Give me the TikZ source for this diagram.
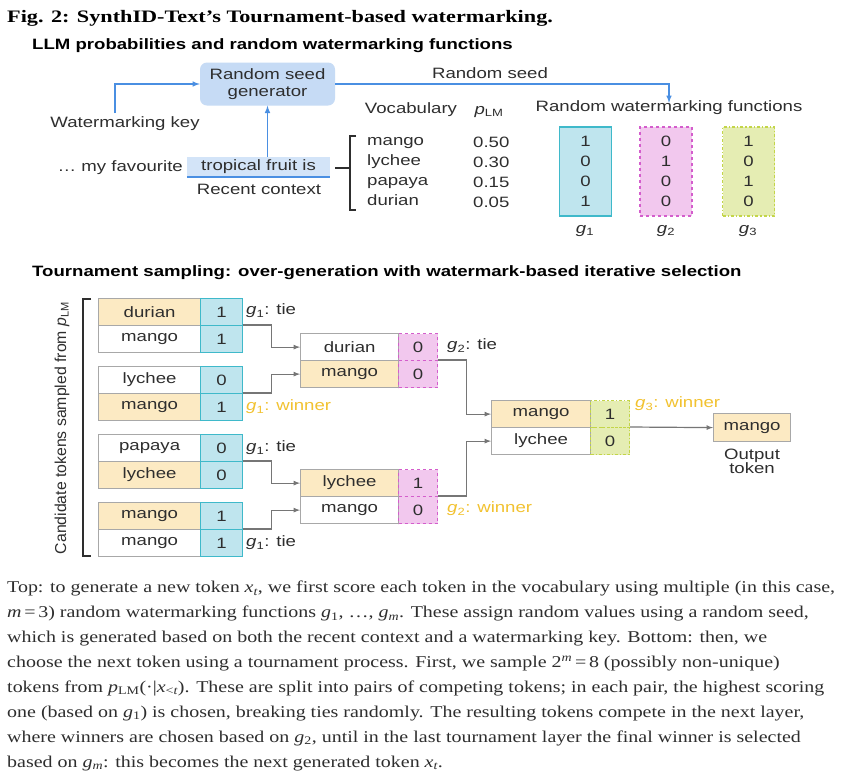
\documentclass[tikz,border=0pt]{standalone}
\usepackage{fontspec}
\setmainfont{Liberation Serif}[FakeStretch=1.21]
\setsansfont{Liberation Sans}[FakeStretch=1.24]
\newfontfamily\rotfont{Liberation Sans}
\newfontfamily\titlefont{Liberation Serif}[FakeStretch=1.27]
\usetikzlibrary{arrows}

\definecolor{seedblue}{HTML}{4A8FE2}
\definecolor{seedfill}{HTML}{C6DBF5}
\definecolor{ctxfill}{HTML}{D3E4F8}
\definecolor{gonefill}{HTML}{BFE5EE}
\definecolor{goneline}{HTML}{3FB9CA}
\definecolor{gtwofill}{HTML}{F2C8EE}
\definecolor{gtwoline}{HTML}{D45DCC}
\definecolor{gthreefill}{HTML}{E5EDB3}
\definecolor{gthreeline}{HTML}{C3D548}
\definecolor{winfill}{HTML}{FCEAC3}
\definecolor{wintext}{HTML}{F2C230}
\definecolor{cellline}{HTML}{A8A8A8}
\definecolor{linkgray}{HTML}{767676}
\definecolor{inkgray}{HTML}{2E2E2E}

\newcommand\diafont{\fontsize{15}{20}\selectfont\sffamily}

\tikzset{
  txt/.style={inner sep=0pt, text=inkgray, font=\diafont},
  head/.style={inner sep=0pt, anchor=west, text=black, font=\fontsize{15}{18}\selectfont\sffamily\bfseries},
  word/.style={draw=cellline, line width=1.2pt, minimum height=27pt, inner sep=0pt,
    anchor=north west, text=inkgray, font=\diafont},
  sone/.style={word, draw=goneline, fill=gonefill, minimum width=42pt},
  stwo/.style={word, draw=gtwoline, fill=gtwofill, dashed, minimum width=39pt},
  sthree/.style={word, draw=gthreeline, fill=gthreefill, dash dot, minimum width=39pt},
  gbox/.style={line width=1.2pt, minimum width=52pt, minimum height=89pt, align=center,
    text=inkgray, font=\diafont},
  link/.style={->, >=latex, draw=linkgray, line width=1.2pt},
  seedarrow/.style={->, >=latex, draw=seedblue, line width=1.5pt},
  score/.style={txt, anchor=west},
  win/.style={txt, anchor=west, text=wintext}
}

\begin{document}
\begin{tikzpicture}[x=1pt, y=-1pt]
\useasboundingbox[fill=white] (0,0) rectangle (842,780);

\node[inner sep=0pt, anchor=west, font=\fontsize{17.5}{20}\selectfont\titlefont\bfseries] (figtitle) at (7,18)
  {Fig. 2: SynthID-Text’s Tournament-based watermarking.};
\node[head] (toptitle) at (32,46) {LLM probabilities and random watermarking functions};

% seed generation
\node[txt, fill=seedfill, rounded corners=7pt, minimum width=135pt, minimum height=43pt,
  align=center, font=\fontsize{15}{17}\selectfont\sffamily] (seedgen) at (267.5,84) {Random seed\\generator};
\node[txt] (wmkey) at (125,124) {Watermarking key};
\coordinate (keytop) at (115,113);
\node[txt, fill=ctxfill, minimum width=143pt, minimum height=20pt] (ctx) at (258.5,167) {tropical fruit is};
\draw[seedblue, line width=1.5pt] (ctx.south west) -- (ctx.south east);
\node[txt, anchor=east] (prefix) at (183,168) {… my favourite};
\node[txt] (ctxlabel) at (259,189) {Recent context};
\node[txt] (seedlabel) at (490,73) {Random seed};
\node[txt] (funcs) at (669,108) {Random watermarking functions};

\draw[seedarrow] (keytop) |- (seedgen.west);
\draw[seedarrow] (seedgen.south |- ctx.north) -- (seedgen.south);
\draw[seedarrow] (seedgen.east) -| ([yshift=-2pt]funcs.north);

% vocabulary
\node[txt] (vocab) at (411,110) {Vocabulary};
\node[txt] (plm) at (489,112) {{\itshape p}\textsubscript{LM}};
\node[txt, anchor=west, align=left] (words) at (367,172) {mango\\lychee\\papaya\\durian};
\node[txt, anchor=west, align=left] (probs) at (473,172) {0.50\\0.30\\0.15\\0.05};
\coordinate (vocbrace) at (350,168);
\draw[inkgray, line width=1.2pt] (356,136) -- (350,136) -- (350,210) -- (356,210);
\draw[inkgray, line width=1.2pt] ([xshift=5pt]ctx.east |- vocbrace) -- (vocbrace);

\node[gbox, draw=goneline, fill=gonefill] (gone) at (585.5,171.5) {1\\0\\0\\1};
\node[gbox, draw=gtwoline, fill=gtwofill, dashed] (gtwo) at (666,171.5) {0\\1\\0\\0};
\node[gbox, draw=gthreeline, fill=gthreefill, dash dot] (gthree) at (748.5,171.5) {1\\0\\1\\0};
\node[txt] (gonelbl) at (585,231) {{\itshape g}\textsubscript{1}};
\node[txt] (gtwolbl) at (666,231) {{\itshape g}\textsubscript{2}};
\node[txt] (gthreelbl) at (748,231) {{\itshape g}\textsubscript{3}};

% tournament
\node[head] (bottitle) at (32,273) {Tournament sampling: over-generation with watermark-based iterative selection};
\draw[inkgray, line width=1.2pt] (91,299) -- (83,299) -- (83,556) -- (91,556);
\node[inner sep=0pt, rotate=90, text=inkgray, font=\fontsize{15.8}{18}\selectfont\rotfont] (cands) at (62,428)
  {Candidate tokens sampled from {\itshape p}\textsubscript{LM}};

\node[word, minimum width=102pt, fill=winfill] (r1w1) at (98,298) {durian};
\node[word, minimum width=102pt] (r1w2) at (98,325) {mango};
\node[word, minimum width=102pt] (r1w3) at (98,366) {lychee};
\node[word, minimum width=102pt, fill=winfill] (r1w4) at (98,393) {mango};
\node[word, minimum width=102pt] (r1w5) at (98,434) {papaya};
\node[word, minimum width=102pt, fill=winfill] (r1w6) at (98,461) {lychee};
\node[word, minimum width=102pt, fill=winfill] (r1w7) at (98,502) {mango};
\node[word, minimum width=102pt] (r1w8) at (98,529) {mango};
\node[sone] (r1s1) at (200,298) {1};
\node[sone] (r1s2) at (200,325) {1};
\node[sone] (r1s3) at (200,366) {0};
\node[sone] (r1s4) at (200,393) {1};
\node[sone] (r1s5) at (200,434) {0};
\node[sone] (r1s6) at (200,461) {0};
\node[sone] (r1s7) at (200,502) {1};
\node[sone] (r1s8) at (200,529) {1};

\node[word, minimum width=98pt] (r2w1) at (300,333) {durian};
\node[word, minimum width=98pt, fill=winfill] (r2w2) at (300,360) {mango};
\node[word, minimum width=98pt, fill=winfill] (r2w3) at (300,469) {lychee};
\node[word, minimum width=98pt] (r2w4) at (300,496) {mango};
\node[stwo] (r2s1) at (398,333) {0};
\node[stwo] (r2s2) at (398,360) {0};
\node[stwo] (r2s3) at (398,469) {1};
\node[stwo] (r2s4) at (398,496) {0};

\node[word, minimum width=99pt, fill=winfill] (r3w1) at (491,400) {mango};
\node[word, minimum width=99pt] (r3w2) at (491,427) {lychee};
\node[sthree] (r3s1) at (590,400) {1};
\node[sthree] (r3s2) at (590,427) {0};

\node[word, minimum width=77pt, minimum height=28pt, fill=winfill] (out) at (713,413) {mango};
\node[txt, align=center, font=\fontsize{15}{14}\selectfont\sffamily] (outlbl) at (752,461) {Output\\token};

\draw[link] (r1s2.north east) -- ++(28,0) |- (r2w1.west);
\draw[link] (r1s4.north east) -- ++(28,0) |- (r2w2.west);
\draw[link] (r1s6.north east) -- ++(28,0) |- (r2w3.west);
\draw[link] (r1s8.north east) -- ++(28,0) |- (r2w4.west);
\draw[link] (r2s2.north east) -- ++(28,0) |- (r3w1.west);
\draw[link] (r2s4.north east) -- ++(28,0) |- (r3w2.west);
\draw[link] (r3s2.north east) -- (out.west);

\node[score] (tie1) at (246,311) {{\itshape g}\textsubscript{1}: tie};
\node[win] (win1) at (246,407) {{\itshape g}\textsubscript{1}: winner};
\node[score] (tie2) at (246,448) {{\itshape g}\textsubscript{1}: tie};
\node[score] (tie3) at (246,543) {{\itshape g}\textsubscript{1}: tie};
\node[score] (tie4) at (447,346) {{\itshape g}\textsubscript{2}: tie};
\node[win] (win2) at (447,509) {{\itshape g}\textsubscript{2}: winner};
\node[win] (win3) at (635,404) {{\itshape g}\textsubscript{3}: winner};

% caption
\node[inner sep=0pt, anchor=base west, align=left, text=inkgray,
  font=\fontsize{16.5}{24.9}\selectfont\rmfamily] (caption) at (7,767)
{Top: to generate a new token {\itshape x}\textsubscript{\itshape t}, we first score each token in the vocabulary using multiple (in this case,\\
{\itshape m}\,=\,3) random watermarking functions {\itshape g}\textsubscript{1}, …, {\itshape g}\textsubscript{\itshape m}. These assign random values using a random seed,\\
which is generated based on both the recent context and a watermarking key. Bottom: then, we\\
choose the next token using a tournament process. First, we sample 2\textsuperscript{\itshape m}\,=\,8 (possibly non-unique)\\
tokens from {\itshape p}\textsubscript{LM}(·|{\itshape x}\textsubscript{<\itshape t}). These are split into pairs of competing tokens; in each pair, the highest scoring\\
one (based on {\itshape g}\textsubscript{1}) is chosen, breaking ties randomly. The resulting tokens compete in the next layer,\\
where winners are chosen based on {\itshape g}\textsubscript{2}, until in the last tournament layer the final winner is selected\\
based on {\itshape g}\textsubscript{\itshape m}: this becomes the next generated token {\itshape x}\textsubscript{\itshape t}.};
\end{tikzpicture}
\end{document}
